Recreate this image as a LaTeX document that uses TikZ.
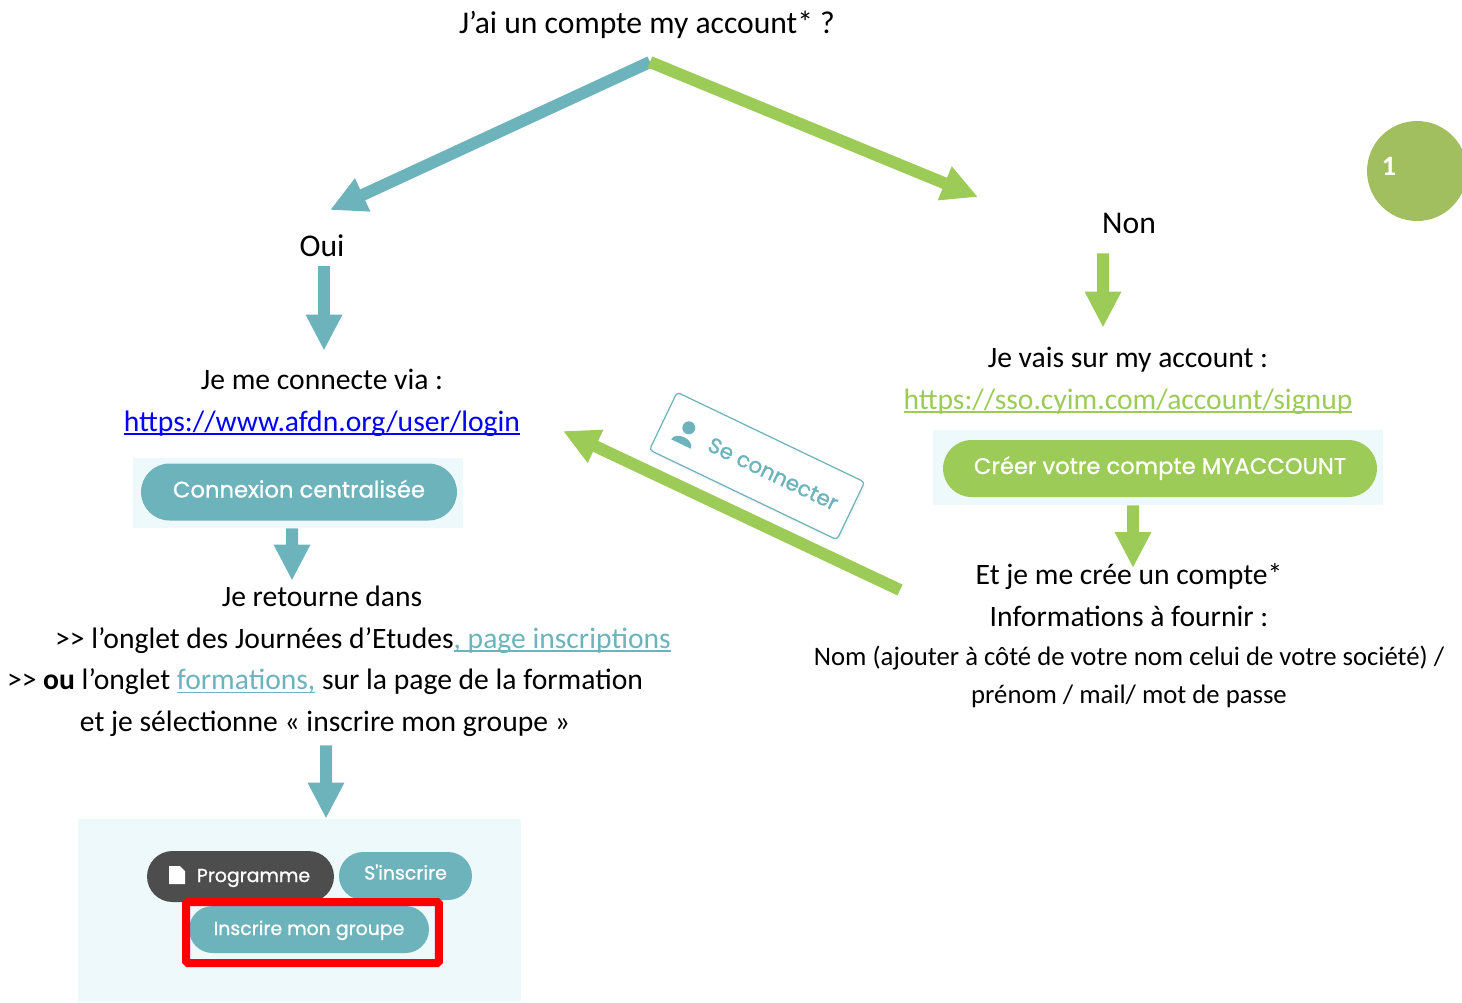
\documentclass[tikz,border=0pt]{standalone}
\usepackage{fontspec}
\setmainfont{Carlito}
\newfontfamily\btnfont[FakeBold=.9]{Poppins}
\usetikzlibrary{positioning, shapes.misc, arrows.meta, shadows}
\definecolor{tealc}{HTML}{6CB3BB}
\definecolor{greenc}{HTML}{9CCB57}
\definecolor{palec}{HTML}{EDF9FA}
\definecolor{darkc}{HTML}{4D4D4D}
\definecolor{badgec}{HTML}{A1BF5F}
\newsavebox{\lnkbox}
\newcommand{\lnk}[1]{\sbox{\lnkbox}{#1}\rlap{\raisebox{-1.9pt}{\rule{\wd\lnkbox}{.6pt}}}\usebox{\lnkbox}}

\begin{document}
\begin{tikzpicture}[
        x=0.02cm, y=-0.02cm,
        txt/.style={inner sep=0pt, text height=.5cm, text depth=.12cm, font=\fontsize{16.85}{20}\selectfont},
        head/.style={txt, font=\fontsize{18}{22}\selectfont},
        small/.style={txt, font=\fontsize{15.2}{18}\selectfont},
        panel/.style={rectangle, fill=palec, inner sep=0pt},
        pill/.style={rounded rectangle, inner sep=0pt, text=white, text height=.3cm, text depth=.08cm, font=\btnfont\fontsize{12.9}{15}\selectfont},
        tinypill/.style={pill, font=\btnfont\fontsize{10.75}{13}\selectfont},
        bluearrow/.style={-{Triangle[length=.72cm, width=.68cm]}, line width=.24cm, draw=tealc},
        greenarrow/.style={-{Triangle[length=.72cm, width=.68cm]}, line width=.24cm, draw=greenc}
        ]
        \useasboundingbox (0,0) rectangle (1462,1002);

        % question and the two answers
        \node[head] (question) at (647,23.5) {J’ai un compte my account* ?};
        \coordinate (fork) at (650,62);
        \coordinate (forkyes) at (330,210);
        \coordinate (forkno) at (978,197);
        \node[head] (oui) at (322,247) {Oui};
        \node[head] (non) at (1129,224) {Non};
        \node[circle, fill=badgec, minimum size=2cm, inner sep=0pt] (badge) at (1417,171) {};
        \node[font=\fontsize{16}{18}\selectfont\bfseries, text=white, inner sep=0pt] (badgenum) at (1389,166) {1};

        % left column
        \node[txt] (via) at (322,380) {Je me connecte via :};
        \node[txt, below=.2cm of via] (login) {\textcolor{blue}{\lnk{https://www.afdn.org/user/login}}};
        \node[panel, minimum width=6.6cm, minimum height=1.4cm] (connbox) at (298,493) {};
        \node[pill, fill=tealc, minimum width=6.32cm, minimum height=1.14cm] (connbtn) at (299,492) {Connexion centralisée};
        \node[txt] (retour) at (322,597) {Je retourne dans};
        \node[txt, below=.2cm of retour, xshift=.82cm] (onglet) {>{}> l’onglet des Journées d’Etudes\textcolor{tealc}{\lnk{, page inscriptions}}};
        \node[txt, below=.2cm of onglet, xshift=-.76cm] (forma) {>{}> \textbf{ou} l’onglet \textcolor{tealc}{\lnk{formations,}} sur la page de la formation};
        \node[txt, below=.2cm of forma] (select) {et je sélectionne « inscrire mon groupe »};

        % bottom screenshot
        \node[panel, minimum width=8.86cm, minimum height=3.66cm] (shotbox) at (299.5,910.5) {};
        \node[tinypill, fill=darkc, minimum width=3.74cm, minimum height=1.02cm] (prog) at (240.5,876.5) {\hspace*{.52cm}Programme};
        \fill[white] (169,866) -- (180,866) -- (185,871) -- (185,884) -- (169,884) -- cycle;
        \node[tinypill, fill=tealc, minimum width=2.66cm, minimum height=.96cm] (sinscrire) at (405.5,876) {\raisebox{.04cm}{S'inscrire}};
        \node[tinypill, fill=tealc, minimum width=4.8cm, minimum height=.94cm] (groupe) at (309,929.5) {Inscrire mon groupe};
        \node[draw=red, line width=.16cm, rounded corners=1pt, minimum width=5.06cm, minimum height=1.22cm, inner sep=0pt] (mark) at (312.5,932.5) {};

        % right column
        \node[txt] (myacc) at (1128,358) {Je vais sur my account :};
        \node[txt, below=.2cm of myacc] (signup) {\textcolor{greenc}{\lnk{https://sso.cyim.com/account/signup}}};
        \node[panel, minimum width=9cm, minimum height=1.5cm] (creebox) at (1158,467.5) {};
        \node[pill, fill=greenc, minimum width=8.68cm, minimum height=1.14cm] (creebtn) at (1160,468.5) {Créer votre compte MYACCOUNT};
        \node[txt] (compte) at (1129,575) {Et je me crée un compte*};
        \node[txt, below=.2cm of compte] (infos) {Informations à fournir :};
        \node[small] (champs) at (1129,656) {Nom (ajouter à côté de votre nom celui de votre société) /};
        \node[small, below=.12cm of champs] (champsb) {prénom / mail/ mot de passe};

        % the tilted card
        \node[rectangle, draw=tealc, line width=.7pt, fill=white, rounded corners=2pt, rotate=-25.6,
            minimum width=4.16cm, minimum height=1.28cm, inner sep=0pt,
            drop shadow={opacity=.08, shadow xshift=.03cm, shadow yshift=-.06cm},
            text=tealc, font=\btnfont\fontsize{12.2}{14}\selectfont] (card) at (757,466) {\hspace*{.72cm}Se connecter};
        \begin{scope}[shift={(card.center)}, rotate=-25.6]
            \fill[tealc] (-78,-5) circle (.13cm);
            \fill[tealc] (-89,13) .. controls (-88,3) and (-68,3) .. (-67,13) -- cycle;
        \end{scope}

        \draw[bluearrow] (fork) -- (forkyes);
        \draw[greenarrow] (fork) -- (forkno);
        \draw[bluearrow, shorten <=.07cm, shorten >=.27cm] ([xshift=.04cm]oui.south) -- ([xshift=.04cm]via.north);
        \draw[greenarrow] ([xshift=-.52cm, yshift=-.27cm]non.south) -- ([xshift=-.5cm, yshift=.29cm]myacc.north);
        \draw[bluearrow] ([xshift=-.12cm]connbox.south) -- ([xshift=-.6cm, yshift=.01cm]retour.north);
        \draw[bluearrow] ([xshift=.02cm, yshift=-.15cm]select.south) -- ([xshift=.53cm]shotbox.north);
        \draw[greenarrow] ([xshift=-.5cm]creebox.south) -- ([xshift=.08cm, yshift=.14cm]compte.center);
        \coordinate (backstart) at (900,590);
        \coordinate (backend) at (563,431);
        \draw[greenarrow] (backstart) -- (backend);
\end{tikzpicture}
\end{document}
